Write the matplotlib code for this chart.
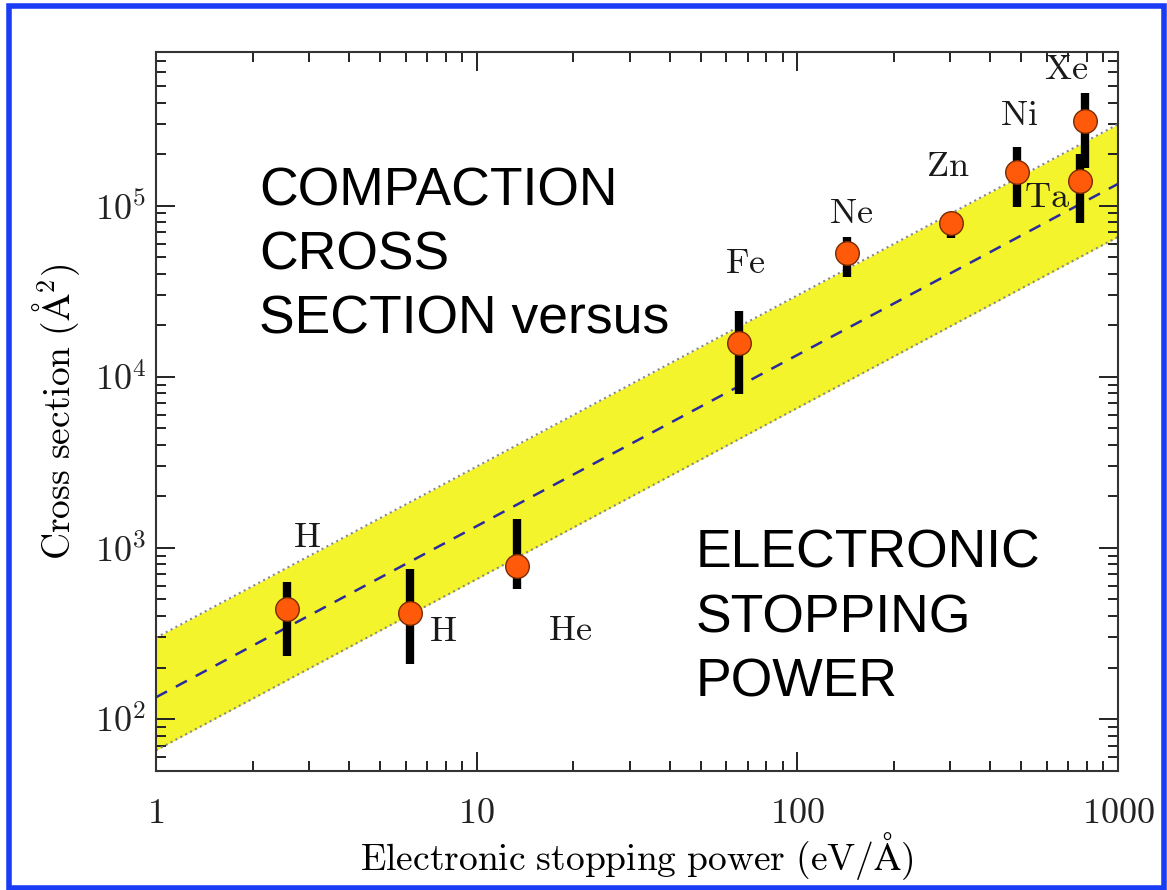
import numpy as np
import matplotlib
matplotlib.use("Agg")
import matplotlib.pyplot as plt
from matplotlib.patches import Rectangle

plt.rcParams['mathtext.fontset'] = 'cm'

# data points: stopping power (eV/A), cross section (A^2), error bar ends
elements = ["H", "H", "He", "Fe", "Ne", "Zn", "Ni", "Ta", "Xe"]
stopping = [2.56, 6.2, 13.4, 66, 143, 302, 484, 761, 789]
cross = [440, 417, 785, 1.58e4, 5.3e4, 7.96e4, 1.58e5, 1.4e5, 3.14e5]
err_low = [233, 210, 576, 7.95e3, 3.85e4, 6.5e4, 9.8e4, 7.96e4, 1.67e5]
err_high = [632, 753, 1480, 2.43e4, 6.6e4, 8.9e4, 2.19e5, 1.99e5, 4.58e5]

# element label positions (data coords)
label_x = [2.95, 7.85, 19.5, 69, 147, 295, 490, 601, 689]
label_y = [1160, 327, 331, 4.6e4, 9.1e4, 1.7e5, 3.4e5, 1.13e5, 6.3e5]

# fit line sigma = a * S and band factors
fit_a = 134
band_up = 2.23
band_down = 0.49

W, H = 1167, 890
fig = plt.figure(figsize=(W / 100, H / 100), dpi=100)
ax = fig.add_axes([156 / W, 1 - 771 / H, (1118 - 156) / W, (771 - 52) / H])

s = np.logspace(0, 3, 200)
ax.fill_between(s, fit_a * band_down * s, fit_a * band_up * s, color='#f4f42c', lw=0, zorder=1)
ax.plot(s, fit_a * band_up * s, ls=':', color='#888888', lw=1.5, zorder=2)
ax.plot(s, fit_a * band_down * s, ls=':', color='#888888', lw=1.5, zorder=2)
ax.plot(s, fit_a * s, ls=(0, (5, 4)), color='#2a2aa0', lw=1.8, zorder=2)

cross = np.array(cross)
yerr = [cross - np.array(err_low), np.array(err_high) - cross]
ax.errorbar(stopping, cross, yerr=yerr, fmt='o', ecolor='black', elinewidth=6, capsize=0,
            mfc='#ff5a0a', mec='#7a2a00', mew=1.0, ms=17, zorder=4)

for name, lx, ly in zip(elements, label_x, label_y):
    ax.text(lx, ly, r'$\mathrm{%s}$' % name, fontsize=26, ha='center', va='center',
            color='#1a1a1a', zorder=5)

fig.text(259 / W, 1 - 166 / H, "COMPACTION\nCROSS\nSECTION versus", fontsize=38.5,
         family='Liberation Sans', ha='left', va='top', linespacing=1.37)
fig.text(696 / W, 1 - 529 / H, "ELECTRONIC\nSTOPPING\nPOWER", fontsize=38.5,
         family='Liberation Sans', ha='left', va='top', linespacing=1.37)

ax.set_xscale('log')
ax.set_yscale('log')
ax.set_xlim(1, 1000)
ax.set_ylim(49.7, 7.9e5)
ax.set_xticks([1, 10, 100, 1000])
ax.set_xticklabels([r'$1$', r'$10$', r'$100$', r'$1000$'])
ax.set_yticks([1e2, 1e3, 1e4, 1e5])
ax.set_yticklabels([r'$10^2$', r'$10^3$', r'$10^4$', r'$10^5$'])

ax.tick_params(which='both', direction='in', top=True, right=True, width=1.4, colors='#222222')
ax.tick_params(which='major', length=14, labelsize=26)
ax.tick_params(which='minor', length=7)
ax.tick_params(axis='x', which='major', pad=18)
ax.tick_params(axis='y', which='major', pad=7)
for sp in ax.spines.values():
    sp.set_linewidth(1.5)
    sp.set_color('#333333')

ax.set_xlabel(r'$\mathrm{Electronic\ stopping\ power\ (eV/\AA)}$', fontsize=27)
ax.set_ylabel(r'$\mathrm{Cross\ section\ (\AA^2)}$', fontsize=27)
ax.xaxis.set_label_coords(0.5, -0.082)
ax.yaxis.set_label_coords(-0.077, 0.5)

# blue frame around the slide
fig.patches.append(Rectangle((0.0075, 0.002), 0.99, 0.991, transform=fig.transFigure,
                             fill=False, edgecolor='#1a3cf5', lw=4))

fig.savefig('out.png', dpi=100)
